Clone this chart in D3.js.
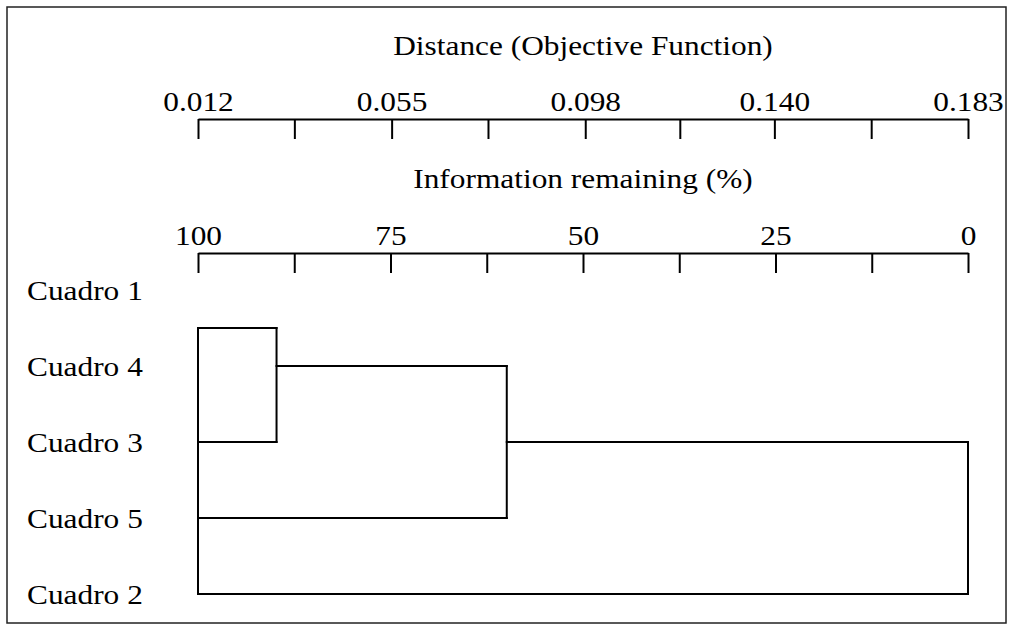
<!DOCTYPE html>
<html>
<head>
<meta charset="utf-8">
<script src="https://cdn.jsdelivr.net/npm/d3@7"></script>
<style>
  body { margin: 0; background: #fff; }
  text { font-family: "Liberation Serif", "Times New Roman", serif; fill: #000; }
</style>
</head>
<body>
<svg id="chart" width="1010" height="632"></svg>
<script>
// Cluster rows, top to bottom
const rowNames = ["Cuadro 1", "Cuadro 4", "Cuadro 3", "Cuadro 5", "Cuadro 2"];

// Top axis: distance (objective function)
const distTicks = [0.012, 0.0334, 0.055, 0.0764, 0.098, 0.119, 0.140, 0.1615, 0.183];
const distLabels = ["0.012", "", "0.055", "", "0.098", "", "0.140", "", "0.183"];

// Second axis: information remaining (%)
const infoTicks = [100, 87.5, 75, 62.5, 50, 37.5, 25, 12.5, 0];
const infoLabels = ["100", "", "75", "", "50", "", "25", "", "0"];

// Dendrogram branches, in % information remaining and row index
const hSegs = [
    { row: 0.5, x0: 100, x1: 89.8 },
    { row: 1, x0: 89.8, x1: 59.9 },
    { row: 2, x0: 100, x1: 89.8 },
    { row: 2, x0: 59.9, x1: 0 },
    { row: 3, x0: 100, x1: 59.9 },
    { row: 4, x0: 100, x1: 0 }
];
const vSegs = [
    { x: 100, r0: 0.5, r1: 4 },
    { x: 89.8, r0: 0.5, r1: 2 },
    { x: 59.9, r0: 1, r1: 3 },
    { x: 0, r0: 2, r1: 4 }
];

const svg = d3.select("#chart");
const stretch = 1.12;   // scanned text is a bit wide
const fontSize = 28;

// frame
svg.append("rect")
    .attr("x", 7).attr("y", 7)
    .attr("width", 999).attr("height", 616)
    .attr("fill", "none")
    .attr("stroke", "#222")
    .attr("stroke-width", 1.5);

const xDist = d3.scaleLinear().domain([0.012, 0.183]).range([198, 968]);
const xInfo = d3.scaleLinear().domain([100, 0]).range([198, 968]);
const yRow = d3.scaleLinear().domain([0, 4]).range([290, 594]);

function styleAxis(g) {
    g.select(".domain").attr("stroke", "#000").attr("stroke-width", 2);
    g.selectAll(".tick line").attr("stroke", "#000").attr("stroke-width", 2);
    g.selectAll(".tick text")
        .attr("font-family", "Liberation Serif, serif")
        .attr("font-size", fontSize)
        .attr("fill", "#000")
        .attr("transform", `scale(${stretch},1)`);
    g.attr("font-family", null).attr("font-size", null);
}

svg.append("g")
    .attr("transform", "translate(0,119)")
    .call(d3.axisTop(xDist)
        .tickValues(distTicks)
        .tickFormat((d, i) => distLabels[i])
        .tickSizeInner(-20)
        .tickSizeOuter(0)
        .tickPadding(8))
    .call(styleAxis);

svg.append("g")
    .attr("transform", "translate(0,253)")
    .call(d3.axisTop(xInfo)
        .tickValues(infoTicks)
        .tickFormat((d, i) => infoLabels[i])
        .tickSizeInner(-20)
        .tickSizeOuter(0)
        .tickPadding(8))
    .call(styleAxis);

// axis titles
function title(txt, y) {
    svg.append("text")
        .attr("transform", `translate(583,${y}) scale(${stretch},1)`)
        .attr("text-anchor", "middle")
        .attr("font-size", fontSize)
        .text(txt);
}
title("Distance (Objective Function)", 55);
title("Information remaining (%)", 188);

// row labels
svg.selectAll(".row-label")
    .data(rowNames)
    .enter()
    .append("text")
    .attr("class", "row-label")
    .attr("transform", (d, i) => `translate(27,${yRow(i) + 10}) scale(${stretch},1)`)
    .attr("font-size", fontSize)
    .text(d => d);

// dendrogram
const tree = svg.append("g")
    .attr("stroke", "#000")
    .attr("stroke-width", 2)
    .attr("stroke-linecap", "square");

tree.selectAll(".h")
    .data(hSegs)
    .enter()
    .append("line")
    .attr("x1", d => xInfo(d.x0))
    .attr("x2", d => xInfo(d.x1))
    .attr("y1", d => yRow(d.row))
    .attr("y2", d => yRow(d.row));

tree.selectAll(".v")
    .data(vSegs)
    .enter()
    .append("line")
    .attr("x1", d => xInfo(d.x))
    .attr("x2", d => xInfo(d.x))
    .attr("y1", d => yRow(d.r0))
    .attr("y2", d => yRow(d.r1));
</script>
</body>
</html>
